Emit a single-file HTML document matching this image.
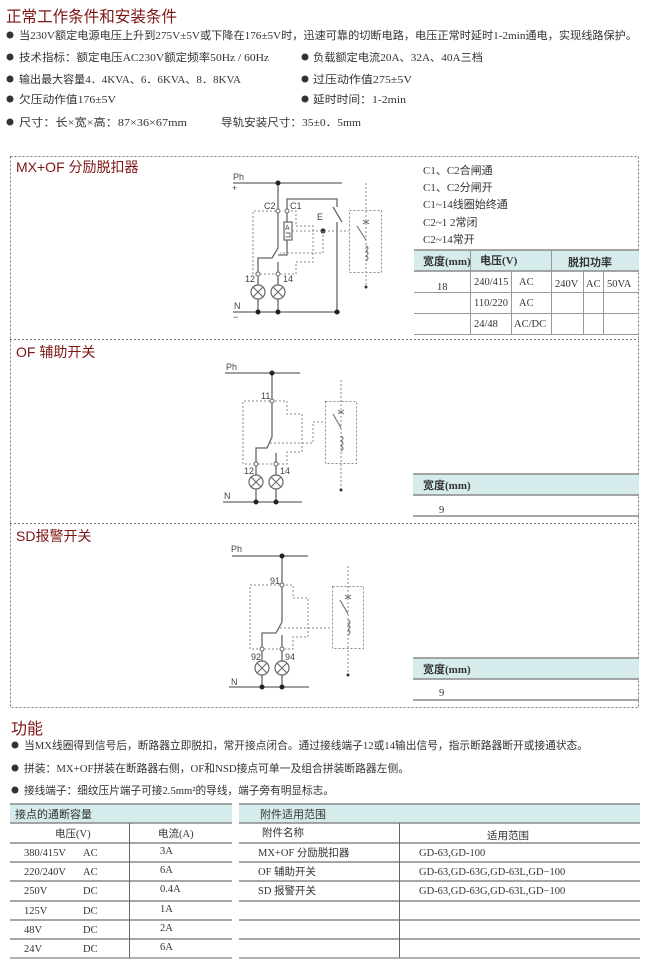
<!DOCTYPE html>
<html><head><meta charset="utf-8"><style>
html,body{margin:0;padding:0;background:#fff;}
svg{display:block;}
text{font-family:"Liberation Serif","Noto Sans CJK SC",serif;fill:#333;}
.s, .s text{font-family:"Liberation Sans","Noto Sans CJK SC",sans-serif;fill:#444;}
.h{font-family:"Liberation Sans","Noto Sans CJK SC",sans-serif;fill:#7d1515;}
.w{stroke:#666;stroke-width:1.3;fill:none;}
.d{stroke:#888;stroke-width:1;stroke-dasharray:2,2;fill:none;}
.g{stroke:#888;stroke-width:1.6;}
.t{stroke:#999;stroke-width:1;}
</style></head><body>
<svg width="650" height="966" viewBox="0 0 650 966" xmlns="http://www.w3.org/2000/svg">
<text class="h" x="6" y="22" font-size="16" textLength="171" lengthAdjust="spacingAndGlyphs">正常工作条件和安装条件</text>
<g font-size="11">
<circle cx="10" cy="35" r="3.5" fill="#333"/>
<text x="19" y="39" textLength="618" lengthAdjust="spacingAndGlyphs">当230V额定电源电压上升到275V±5V或下降在176±5V时，迅速可靠的切断电路，电压正常时延时1-2min通电，实现线路保护。</text>
<circle cx="10" cy="57" r="3.5" fill="#333"/>
<text x="19" y="61" textLength="250" lengthAdjust="spacingAndGlyphs">技术指标：额定电压AC230V额定频率50Hz / 60Hz</text>
<circle cx="305" cy="57" r="3.5" fill="#333"/>
<text x="313" y="61" textLength="170" lengthAdjust="spacingAndGlyphs">负载额定电流20A、32A、40A三档</text>
<circle cx="10" cy="79" r="3.5" fill="#333"/>
<text x="19" y="83" textLength="222" lengthAdjust="spacingAndGlyphs">输出最大容量4．4KVA、6．6KVA、8．8KVA</text>
<circle cx="305" cy="79" r="3.5" fill="#333"/>
<text x="313" y="83" textLength="99" lengthAdjust="spacingAndGlyphs">过压动作值275±5V</text>
<circle cx="10" cy="99" r="3.5" fill="#333"/>
<text x="19" y="103" textLength="97" lengthAdjust="spacingAndGlyphs">欠压动作值176±5V</text>
<circle cx="305" cy="99" r="3.5" fill="#333"/>
<text x="313" y="103" textLength="93" lengthAdjust="spacingAndGlyphs">延时时间：1-2min</text>
<circle cx="10" cy="122" r="3.5" fill="#333"/>
<text x="19" y="126" textLength="168" lengthAdjust="spacingAndGlyphs">尺寸：长×宽×高：87×36×67mm</text>
<text x="221" y="126" textLength="140" lengthAdjust="spacingAndGlyphs">导轨安装尺寸：35±0．5mm</text>
</g>

<g stroke="#777" stroke-width="1" stroke-dasharray="2,2" fill="none">
<rect x="10.5" y="156.5" width="628" height="551"/>
<line x1="10" y1="339.5" x2="639" y2="339.5"/>
<line x1="10" y1="523.5" x2="639" y2="523.5"/>
</g>
<text class="h" x="16" y="172" font-size="14">MX+OF 分励脱扣器</text>
<text class="h" x="16" y="357" font-size="14">OF 辅助开关</text>
<text class="h" x="16" y="541" font-size="14">SD报警开关</text>

<g class="s" font-size="9">
<text x="233" y="180">Ph</text><text x="232" y="191">+</text>
<text x="264" y="209">C2</text><text x="290" y="209">C1</text>
<text x="317" y="220">E</text>
<text x="245" y="282">12</text><text x="283" y="282">14</text>
<text x="234" y="309">N</text><text x="233" y="320">−</text>
</g>
<line class="w" x1="233" y1="183" x2="342" y2="183"/>
<line class="w" x1="278" y1="183" x2="278" y2="209"/>
<path class="w" d="M278 213 V248 L272 258 H258 V272"/>
<path class="w" d="M287 209 V199 H337 V207 M333 207 L342 222 M337 222 V312"/>
<line class="w" x1="287" y1="213" x2="287" y2="222"/>
<rect x="284" y="222" width="8" height="18" fill="#fff" stroke="#666" stroke-width="1.2"/>
<text class="s" x="285" y="230" font-size="7">A</text>
<path d="M285.5 233 H290 V237 H285.5" stroke="#666" fill="none" stroke-width="0.9"/>
<path class="w" d="M287 240 V255 H278"/>
<line class="w" x1="278" y1="262" x2="278" y2="272"/>
<circle cx="278" cy="211" r="2" fill="#fff" stroke="#666"/>
<circle cx="287" cy="211" r="2" fill="#fff" stroke="#666"/>
<circle cx="258" cy="274" r="2" fill="#fff" stroke="#666"/>
<circle cx="278" cy="274" r="2" fill="#fff" stroke="#666"/>
<path class="w" d="M258 276 V312 M278 276 V312"/>
<g fill="#fff" stroke="#666" stroke-width="1.2">
<circle cx="258" cy="292" r="7"/><circle cx="278" cy="292" r="7"/>
</g>
<path d="M253 287 L263 297 M263 287 L253 297 M273 287 L283 297 M283 287 L273 297" stroke="#666"/>
<line class="w" x1="233" y1="312" x2="340" y2="312"/>
<g fill="#222"><circle cx="278" cy="183" r="2.5"/><circle cx="258" cy="312" r="2.5"/><circle cx="278" cy="312" r="2.5"/><circle cx="337" cy="312" r="2.5"/><circle cx="323" cy="231" r="2.5"/></g>
<path class="d" d="M276 211 H253 V274 H256 M260 274 H276 M280 274 H296 V262 H313 V226 H296 V211 H289"/>
<path class="d" d="M292 231 H349 M323 231 V253 H280"/>
<rect class="d" x="349.5" y="210.5" width="32" height="62"/>
<line class="d" x1="366" y1="183" x2="366" y2="287"/>
<circle cx="366" cy="287" r="1.5" fill="#333"/>
<path d="M363 220 L369 224 M369 220 L363 224" stroke="#666"/>
<path d="M357 226 L366 240 M366 246 q4 2 0 5 q4 2 0 5 q4 2 0 5" stroke="#666" fill="none"/>

<g font-size="11">
<text x="423" y="174">C1、C2合闸通</text>
<text x="423" y="191">C1、C2分闸开</text>
<text x="423" y="208">C1~14线圈始终通</text>
<text x="423" y="226">C2~1 2常闭</text>
<text x="423" y="243">C2~14常开</text>
</g>
<rect x="414" y="250" width="225" height="21" fill="#d6ecec"/>
<line class="g" x1="414" y1="250" x2="639" y2="250"/>
<line class="g" x1="414" y1="271" x2="639" y2="271"/>
<line class="t" x1="414" y1="292.5" x2="639" y2="292.5"/>
<line class="t" x1="414" y1="313.5" x2="639" y2="313.5"/>
<line class="t" x1="414" y1="334.5" x2="639" y2="334.5"/>
<g class="t"><line x1="470.5" y1="250" x2="470.5" y2="334"/><line x1="551.5" y1="250" x2="551.5" y2="334"/>
<line x1="511.5" y1="271" x2="511.5" y2="334"/><line x1="583.5" y1="271" x2="583.5" y2="334"/><line x1="603.5" y1="271" x2="603.5" y2="334"/></g>
<g font-size="11" font-weight="bold">
<text x="423" y="265">宽度(mm)</text><text x="480" y="264">电压(V)</text><text x="568" y="266">脱扣功率</text>
</g>
<g font-size="10.5">
<text x="437" y="290">18</text>
<text x="474" y="285">240/415</text><text x="519" y="285">AC</text>
<text x="555" y="287">240V</text><text x="586" y="287">AC</text><text x="607" y="287">50VA</text>
<text x="474" y="306">110/220</text><text x="519" y="306">AC</text>
<text x="474" y="327">24/48</text><text x="514" y="327">AC/DC</text>
</g>

<g class="s" font-size="9">
<text x="226" y="370">Ph</text>
<text x="261" y="399">11</text>
<text x="244" y="474">12</text><text x="280" y="474">14</text>
<text x="224" y="499">N</text>
</g>
<line class="w" x1="225" y1="373" x2="300" y2="373"/>
<path class="w" d="M272 373 V399 M272 403 V437 L267 448 H256 V462"/>
<line class="w" x1="276" y1="453" x2="276" y2="462"/>
<circle cx="272" cy="401" r="2" fill="#fff" stroke="#666"/>
<circle cx="256" cy="464" r="2" fill="#fff" stroke="#666"/>
<circle cx="276" cy="464" r="2" fill="#fff" stroke="#666"/>
<path class="w" d="M256 466 V502 M276 466 V502"/>
<g fill="#fff" stroke="#666" stroke-width="1.2"><circle cx="256" cy="482" r="7"/><circle cx="276" cy="482" r="7"/></g>
<path d="M251 477 L261 487 M261 477 L251 487 M271 477 L281 487 M281 477 L271 487" stroke="#666"/>
<line class="w" x1="223" y1="502" x2="302" y2="502"/>
<g fill="#222"><circle cx="272" cy="373" r="2.5"/><circle cx="256" cy="502" r="2.5"/><circle cx="276" cy="502" r="2.5"/></g>
<path class="d" d="M270 401 H243 V464 H254 M258 464 H274 M278 464 H287 V452 H302 V414 H287 V401 H274"/>
<path class="d" d="M270 443 H313 V422 H325"/>
<rect class="d" x="325.5" y="401.5" width="31" height="62"/>
<line class="d" x1="341" y1="380" x2="341" y2="490"/>
<circle cx="341" cy="490" r="1.5" fill="#333"/>
<path d="M338 410 L344 414 M344 410 L338 414" stroke="#666"/>
<path d="M333 414 L341 428 M341 436 q4 2 0 5 q4 2 0 5 q4 2 0 5" stroke="#666" fill="none"/>
<rect x="413" y="474" width="226" height="21" fill="#d6ecec"/>
<line class="g" x1="413" y1="474" x2="639" y2="474"/>
<line class="g" x1="413" y1="495" x2="639" y2="495"/>
<line class="g" x1="413" y1="516" x2="639" y2="516"/>
<text x="423" y="489" font-size="11" font-weight="bold">宽度(mm)</text>
<text x="439" y="513" font-size="10.5">9</text>

<g class="s" font-size="9">
<text x="231" y="552">Ph</text>
<text x="270" y="584">91</text>
<text x="251" y="660">92</text><text x="285" y="660">94</text>
<text x="231" y="685">N</text>
</g>
<line class="w" x1="232" y1="556" x2="308" y2="556"/>
<path class="w" d="M282 556 V583 M282 587 V622 L276 633 H262 V647"/>
<line class="w" x1="282" y1="635" x2="282" y2="647"/>
<circle cx="282" cy="585" r="2" fill="#fff" stroke="#666"/>
<circle cx="262" cy="649" r="2" fill="#fff" stroke="#666"/>
<circle cx="282" cy="649" r="2" fill="#fff" stroke="#666"/>
<path class="w" d="M262 651 V687 M282 651 V687"/>
<g fill="#fff" stroke="#666" stroke-width="1.2"><circle cx="262" cy="668" r="7"/><circle cx="282" cy="668" r="7"/></g>
<path d="M257 663 L267 673 M267 663 L257 673 M277 663 L287 673 M287 663 L277 673" stroke="#666"/>
<line class="w" x1="229" y1="687" x2="309" y2="687"/>
<g fill="#222"><circle cx="282" cy="556" r="2.5"/><circle cx="262" cy="687" r="2.5"/><circle cx="282" cy="687" r="2.5"/></g>
<path class="d" d="M280 585 H250 V649 H260 M264 649 H280 M284 649 H293 V637 H308 V598 H293 V585 H284"/>
<path class="d" d="M280 628 H332"/>
<rect class="d" x="332.5" y="586.5" width="31" height="62"/>
<line class="d" x1="348" y1="566" x2="348" y2="675"/>
<circle cx="348" cy="675" r="1.5" fill="#333"/>
<path d="M345 595 L351 599 M351 595 L345 599" stroke="#666"/>
<path d="M340 600 L348 614 M348 620 q4 2 0 5 q4 2 0 5 q4 2 0 5" stroke="#666" fill="none"/>
<rect x="413" y="658" width="226" height="21" fill="#d6ecec"/>
<line class="g" x1="413" y1="658" x2="639" y2="658"/>
<line class="g" x1="413" y1="679" x2="639" y2="679"/>
<line class="g" x1="413" y1="700" x2="639" y2="700"/>
<text x="423" y="673" font-size="11" font-weight="bold">宽度(mm)</text>
<text x="439" y="696" font-size="10.5">9</text>

<text class="h" x="11" y="734" font-size="16">功能</text>
<g font-size="11">
<circle cx="15" cy="745" r="3.5" fill="#333"/>
<text x="24" y="749" textLength="564" lengthAdjust="spacingAndGlyphs">当MX线圈得到信号后，断路器立即脱扣，常开接点闭合。通过接线端子12或14输出信号，指示断路器断开或接通状态。</text>
<circle cx="15" cy="768" r="3.5" fill="#333"/>
<text x="24" y="772" textLength="385" lengthAdjust="spacingAndGlyphs">拼装：MX+OF拼装在断路器右侧，OF和NSD接点可单一及组合拼装断路器左侧。</text>
<circle cx="15" cy="790" r="3.5" fill="#333"/>
<text x="24" y="794" textLength="310" lengthAdjust="spacingAndGlyphs">接线端子：细纹压片端子可接2.5mm²的导线，端子旁有明显标志。</text>
</g>

<rect x="10" y="804" width="222" height="19" fill="#d6ecec"/>
<rect x="239" y="804" width="401" height="19" fill="#d6ecec"/>
<g class="g">
<line x1="10" y1="804" x2="232" y2="804"/><line x1="10" y1="823" x2="232" y2="823"/>
<line x1="239" y1="804" x2="640" y2="804"/><line x1="239" y1="823" x2="640" y2="823"/>
<line x1="10" y1="843" x2="232" y2="843"/><line x1="239" y1="843" x2="640" y2="843"/>
<line x1="10" y1="862" x2="232" y2="862"/><line x1="239" y1="862" x2="640" y2="862"/>
<line x1="10" y1="881" x2="232" y2="881"/><line x1="239" y1="881" x2="640" y2="881"/>
<line x1="10" y1="901" x2="232" y2="901"/><line x1="239" y1="901" x2="640" y2="901"/>
<line x1="10" y1="920" x2="232" y2="920"/><line x1="239" y1="920" x2="640" y2="920"/>
<line x1="10" y1="939" x2="232" y2="939"/><line x1="239" y1="939" x2="640" y2="939"/>
</g>
<line x1="10" y1="958" x2="232" y2="958" stroke="#666" stroke-width="1"/>
<line x1="239" y1="958" x2="640" y2="958" stroke="#666" stroke-width="1"/>
<line x1="129.5" y1="823" x2="129.5" y2="958" stroke="#666"/>
<line x1="399.5" y1="823" x2="399.5" y2="958" stroke="#666"/>
<g font-size="10.5">
<text x="15" y="818" font-size="11">接点的通断容量</text>
<text x="260" y="818" font-size="11">附件适用范围</text>
<text x="55" y="837">电压(V)</text><text x="158" y="837">电流(A)</text>
<text x="262" y="836">附件名称</text><text x="487" y="839">适用范围</text>
<text x="24" y="856">380/415V</text><text x="83" y="856">AC</text><text x="160" y="854">3A</text>
<text x="24" y="875">220/240V</text><text x="83" y="875">AC</text><text x="160" y="873">6A</text>
<text x="24" y="894">250V</text><text x="83" y="894">DC</text><text x="160" y="892">0.4A</text>
<text x="24" y="914">125V</text><text x="83" y="914">DC</text><text x="160" y="912">1A</text>
<text x="24" y="933">48V</text><text x="83" y="933">DC</text><text x="160" y="931">2A</text>
<text x="24" y="952">24V</text><text x="83" y="952">DC</text><text x="160" y="950">6A</text>
<text x="258" y="856">MX+OF 分励脱扣器</text><text x="419" y="856">GD-63,GD-100</text>
<text x="258" y="875">OF 辅助开关</text><text x="419" y="875">GD-63,GD-63G,GD-63L,GD−100</text>
<text x="258" y="894">SD 报警开关</text><text x="419" y="894">GD-63,GD-63G,GD-63L,GD−100</text>
</g>
</svg>
</body></html>
